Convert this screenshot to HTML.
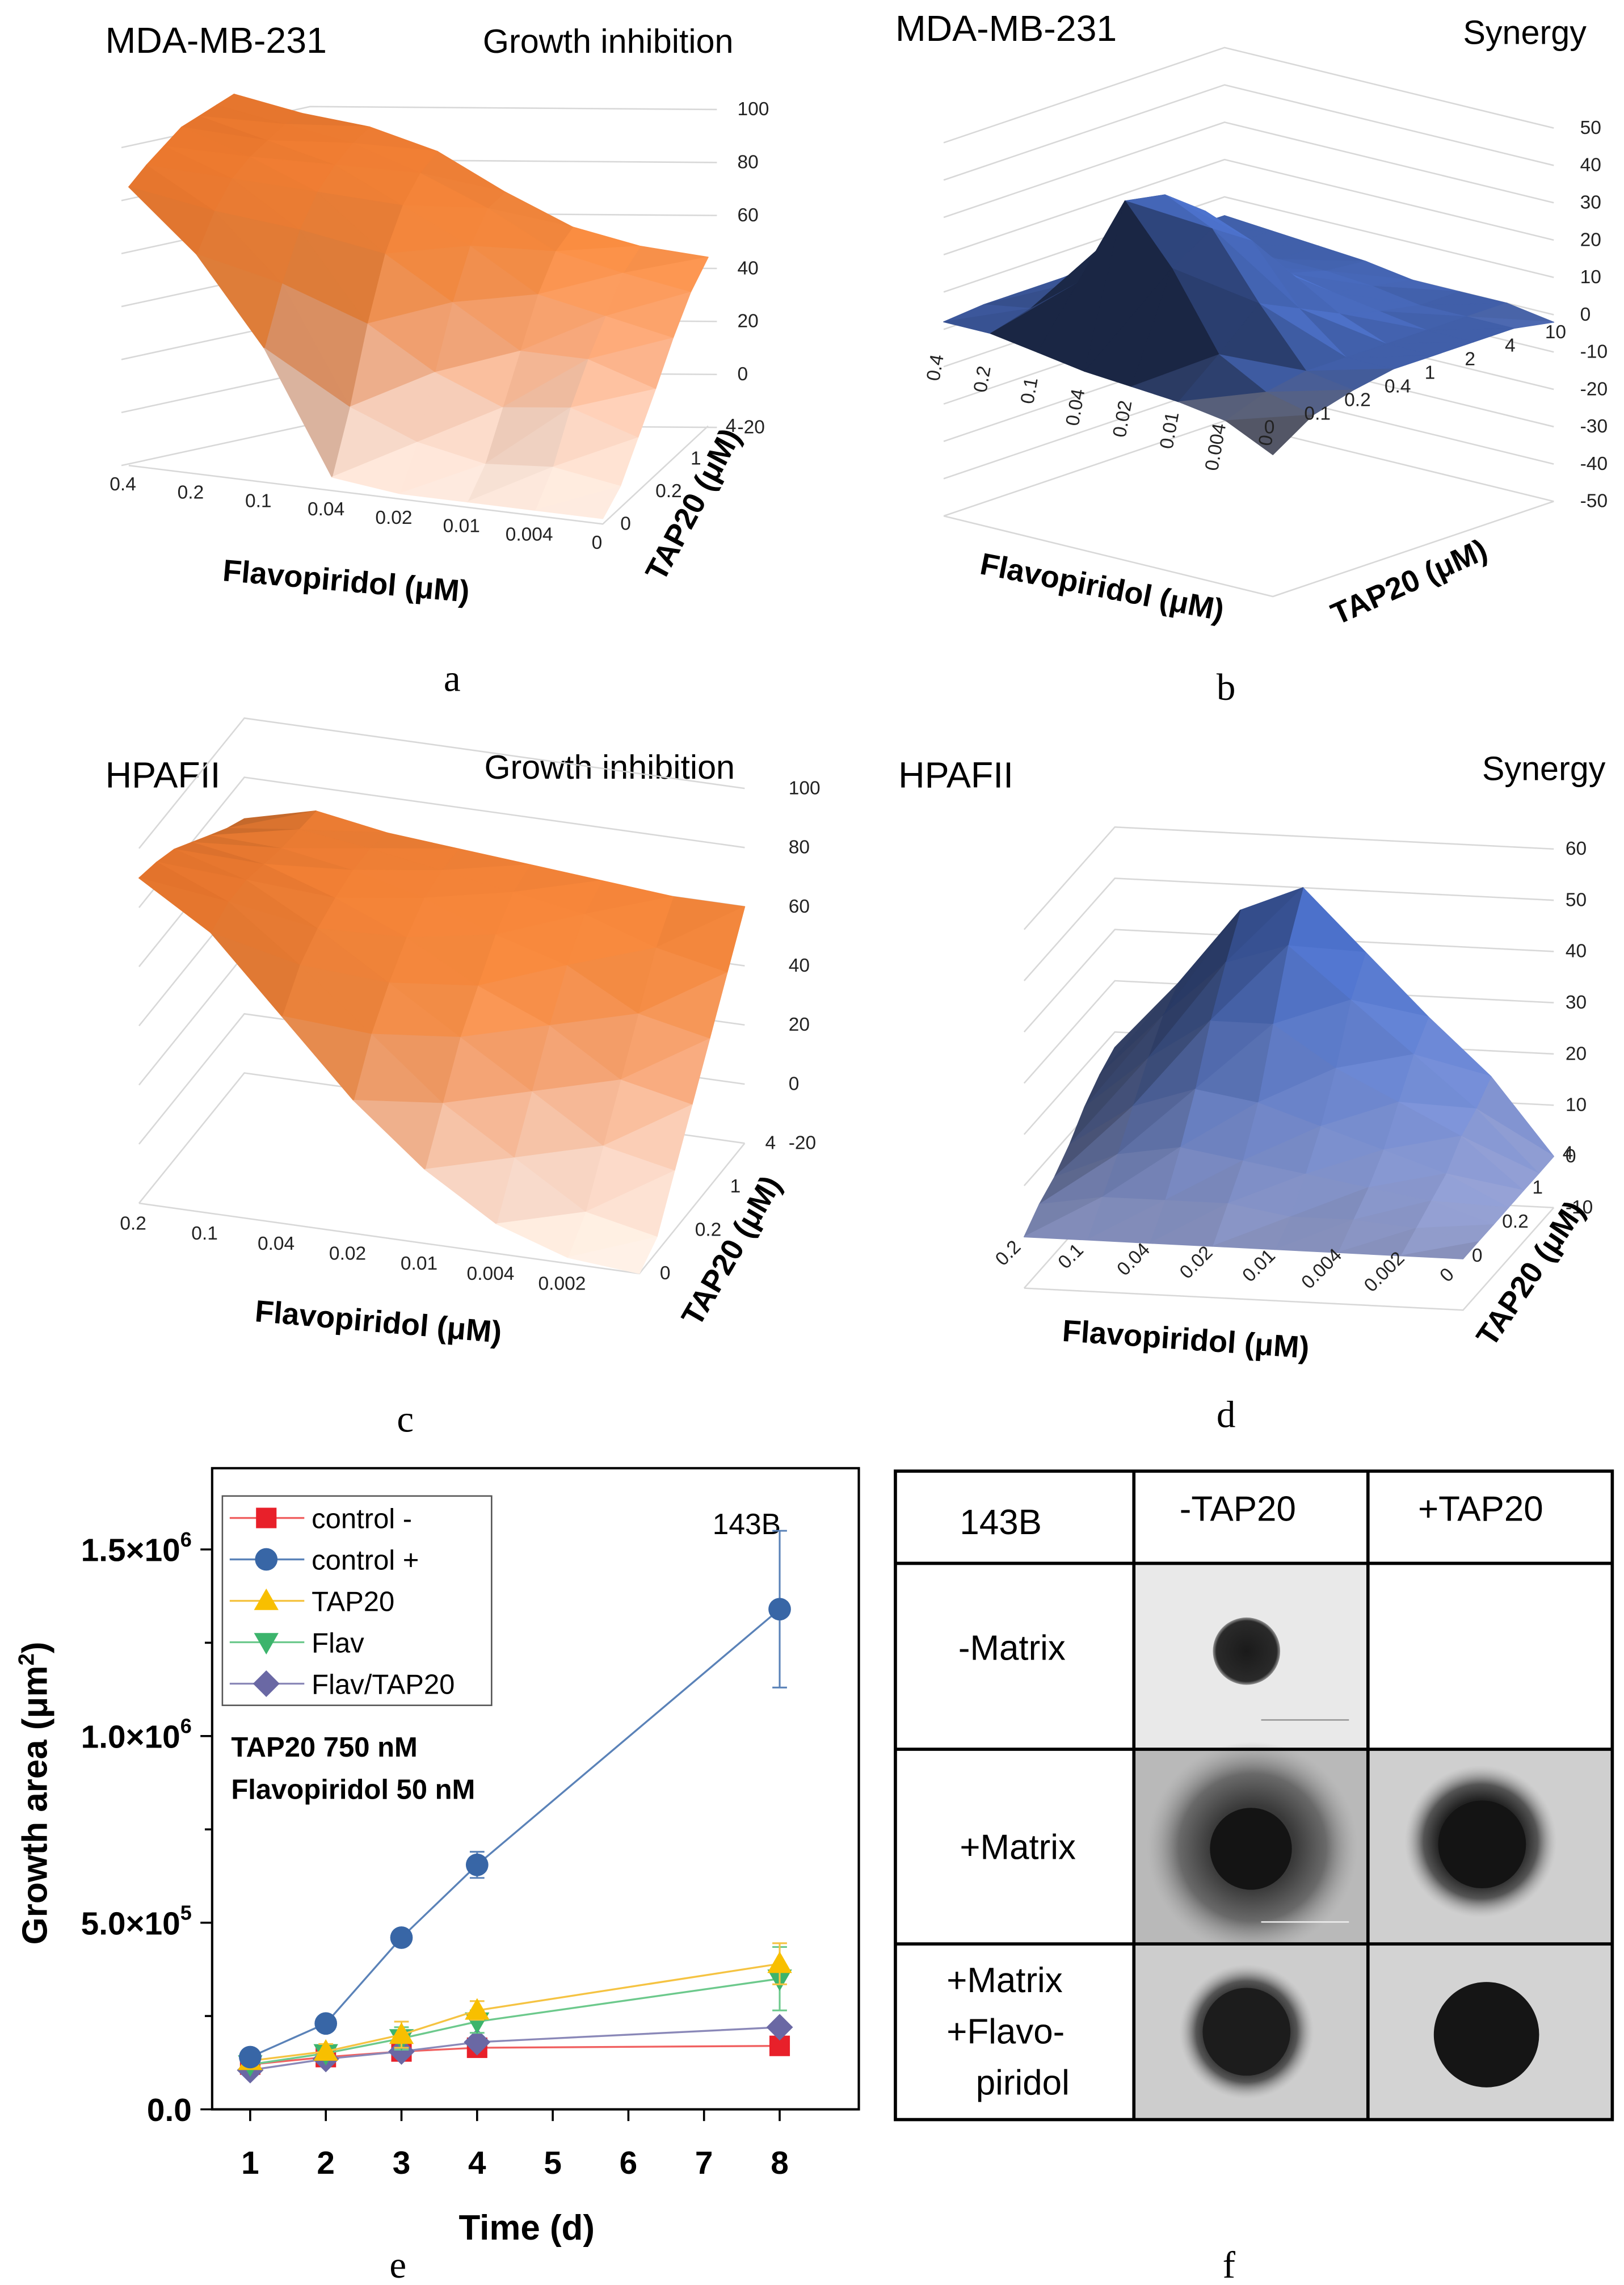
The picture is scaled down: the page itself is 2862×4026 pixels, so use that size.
<!DOCTYPE html>
<html><head><meta charset="utf-8"><title>Figure</title>
<style>
html,body{margin:0;padding:0;background:#fff;}
svg{display:block;}
text{font-family:"Liberation Sans",sans-serif;}
.serif{font-family:"Liberation Serif",serif;}
</style></head>
<body>
<svg id="root" xmlns="http://www.w3.org/2000/svg" width="2862" height="4026" viewBox="0 0 1110 1561" preserveAspectRatio="none">
<defs>
<radialGradient id="sph1" cx="50%" cy="50%" r="50%"><stop offset="0" stop-color="#1a1a1a"/><stop offset="0.9" stop-color="#2a2a2a"/><stop offset="1" stop-color="#555" stop-opacity="0.6"/></radialGradient>
<radialGradient id="halo1" cx="50%" cy="50%" r="50%"><stop offset="0" stop-color="#222"/><stop offset="0.4" stop-color="#3a3a3a"/><stop offset="0.7" stop-color="#6a6a6a"/><stop offset="1" stop-color="#a0a0a0" stop-opacity="0"/></radialGradient>
<radialGradient id="halo2" cx="50%" cy="50%" r="50%"><stop offset="0" stop-color="#1a1a1a"/><stop offset="0.55" stop-color="#222"/><stop offset="0.75" stop-color="#555"/><stop offset="1" stop-color="#aaa" stop-opacity="0"/></radialGradient>
</defs>

<g>
<text x="72" y="36" font-size="25">MDA-MB-231</text>
<text x="330" y="36" font-size="23">Growth inhibition</text>
</g>
<g>
<text x="612" y="28" font-size="25">MDA-MB-231</text>
<text x="1000" y="30" font-size="23">Synergy</text>
</g>
<g>
<text x="72" y="538" font-size="25">HPAFII</text>
<text x="331" y="532" font-size="23">Growth inhibition</text>
</g>
<g>
<text x="614" y="538" font-size="25">HPAFII</text>
<text x="1013" y="533" font-size="23">Synergy</text>
</g>

<g id="pa"></g>
<g id="pb"></g>
<g id="pc"></g>
<g id="pd"></g>

<text x="236" y="404" font-size="21" font-weight="bold" text-anchor="middle" transform="rotate(5 236 404)">Flavopiridol (μM)</text>
<text x="480" y="348" font-size="21" font-weight="bold" text-anchor="middle" transform="rotate(-62 480 348)">TAP20 (μM)</text>
<text x="752" y="408" font-size="21" font-weight="bold" text-anchor="middle" transform="rotate(11 752 408)">Flavopiridol (μM)</text>
<text x="966" y="404" font-size="21" font-weight="bold" text-anchor="middle" transform="rotate(-24 966 404)">TAP20 (μM)</text>
<text x="258" y="910" font-size="21" font-weight="bold" text-anchor="middle" transform="rotate(5 258 910)">Flavopiridol (μM)</text>
<text x="506" y="858" font-size="21" font-weight="bold" text-anchor="middle" transform="rotate(-60 506 858)">TAP20 (μM)</text>
<text x="810" y="922" font-size="21" font-weight="bold" text-anchor="middle" transform="rotate(4 810 922)">Flavopiridol (μM)</text>
<text x="1052" y="874" font-size="21" font-weight="bold" text-anchor="middle" transform="rotate(-56 1052 874)">TAP20 (μM)</text>

<text class="serif" x="309" y="472" font-size="26" text-anchor="middle">a</text>
<text class="serif" x="838" y="478" font-size="26" text-anchor="middle">b</text>
<text class="serif" x="277" y="978" font-size="26" text-anchor="middle">c</text>
<text class="serif" x="838" y="975" font-size="26" text-anchor="middle">d</text>
<text class="serif" x="272" y="1556" font-size="26" text-anchor="middle">e</text>
<text class="serif" x="840" y="1556" font-size="26" text-anchor="middle">f</text>

<g id="pe">
<rect x="145" y="1003" width="442" height="438" fill="none" stroke="#000" stroke-width="1.6"/>
<text transform="translate(32 1225) rotate(-90)" font-size="24" font-weight="bold" text-anchor="middle">Growth area (μm<tspan font-size="15" dy="-9">2</tspan><tspan dy="9">)</tspan></text>
<text x="360" y="1530" font-size="24" font-weight="bold" text-anchor="middle">Time (d)</text>
<text x="487" y="1048" font-size="20">143B</text>
<text x="158" y="1200" font-size="19" font-weight="bold">TAP20 750 nM</text>
<text x="158" y="1229" font-size="19" font-weight="bold">Flavopiridol 50 nM</text>
<g id="legend">
<rect x="152" y="1022" width="184" height="143" fill="#fff" stroke="#555" stroke-width="1"/>
</g>
</g>

<g>
<rect x="775" y="1068" width="160" height="127" fill="#e9e9e9"/>
<circle cx="852" cy="1128" r="23" fill="url(#sph1)"/>
<line x1="862" y1="1175" x2="922" y2="1175" stroke="#999" stroke-width="1"/>
<rect x="775" y="1195" width="160" height="133" fill="#b9b9b9"/>
<circle cx="856" cy="1262" r="72" fill="url(#halo1)"/>
<circle cx="855" cy="1263" r="28" fill="#141414"/>
<line x1="862" y1="1313" x2="922" y2="1313" stroke="#eee" stroke-width="1"/>
<rect x="935" y="1195" width="167" height="133" fill="#cfcfcf"/>
<circle cx="1012" cy="1258" r="52" fill="url(#halo2)"/>
<circle cx="1013" cy="1260" r="30" fill="#141414"/>
<rect x="775" y="1328" width="160" height="120" fill="#cdcdcd"/>
<circle cx="852" cy="1388" r="46" fill="url(#halo2)"/>
<circle cx="852" cy="1388" r="30" fill="#1c1c1c"/>
<rect x="935" y="1328" width="167" height="120" fill="#d3d3d3"/>
<circle cx="1016" cy="1390" r="36" fill="#151515"/>
<g stroke="#000" stroke-width="2.2" fill="none">
<rect x="612" y="1005" width="490" height="443"/>
<line x1="775" y1="1005" x2="775" y2="1448"/>
<line x1="935" y1="1005" x2="935" y2="1448"/>
<line x1="612" y1="1068" x2="1102" y2="1068"/>
<line x1="612" y1="1195" x2="1102" y2="1195"/>
<line x1="612" y1="1328" x2="1102" y2="1328"/>
</g>
<g font-size="24">
<text x="656" y="1048">143B</text>
<text x="846" y="1039" text-anchor="middle">-TAP20</text>
<text x="1012" y="1039" text-anchor="middle">+TAP20</text>
<text x="655" y="1134">-Matrix</text>
<text x="656" y="1270">+Matrix</text>
<text x="647" y="1361">+Matrix</text>
<text x="647" y="1396">+Flavo-</text>
<text x="667" y="1431">piridol</text>
</g>
</g>
</svg>

<script>
// ---------- 3D surface data (rows: TAP20 front->back, cols: Flavopiridol high->0) ----------
const flavLabelsA = ["0.4","0.2","0.1","0.04","0.02","0.01","0.004","0"];
const tapLabelsA = ["0","","0.2","","1","","4"];
const zTicksA = [-20,0,20,40,60,80,100];
const surfA = [
 [84,62,30,-15,-18,-18,-18,-18],
 [86,72,48,5,-5,-10,-8,-12],
 [87,78,62,30,15,5,8,0],
 [88,80,70,50,35,20,20,12],
 [86,80,74,62,50,35,30,25],
 [84,80,76,68,58,45,40,36],
 [82,78,76,70,58,48,44,43]
];
const flavLabelsB = ["0.4","0.2","0.1","0.04","0.02","0.01","0.004","0"];
const tapLabelsB = ["0","0.1","0.2","0.4","1","2","4","10"];
const zTicksB = [-50,-40,-30,-20,-10,0,10,20,30,40,50];
const surfB = [
 [2,2,0,-2,-3,-4,-6,-12],
 [3,5,15,40,25,5,-2,-5],
 [3,8,25,38,32,15,0,-2],
 [3,8,18,30,25,10,0,0],
 [4,6,10,15,12,5,0,0],
 [5,5,5,6,4,2,0,0],
 [5,4,3,3,2,0,0,0],
 [5,4,3,2,0,0,0,-2]
];
const flavLabelsC = ["0.2","0.1","0.04","0.02","0.01","0.004","0.002",""];
const tapLabelsC = ["0","","0.2","","1","","4"];
const zTicksC = [-20,0,20,40,60,80,100];
const surfC = [
 [90,75,50,25,5,-10,-18,-20],
 [88,78,60,40,20,5,-10,-15],
 [85,78,65,50,35,20,5,0],
 [80,76,68,58,45,35,20,15],
 [75,74,70,64,55,48,35,30],
 [70,73,70,66,62,58,50,45],
 [66,72,68,66,64,62,60,60]
];
const flavLabelsD = ["0.2","0.1","0.04","0.02","0.01","0.004","0.002","0"];
const tapLabelsD = ["0","","0.2","","1","","4"];
const zTicksD = [-10,0,10,20,30,40,50,60];
const surfD = [
 [0,0,0,0,0,0,0,0],
 [3,5,5,5,3,3,2,0],
 [5,10,12,10,8,6,4,0],
 [8,16,20,18,14,10,6,0],
 [12,22,30,30,22,16,10,0],
 [15,27,38,42,32,22,12,0],
 [17,30,45,50,38,26,15,0]
];

// ---------- Panel e data ----------
const days = [1,2,3,4,8];
const ctrlNeg = [1.2e5,1.4e5,1.55e5,1.65e5,1.7e5];
const ctrlPos = [1.4e5,2.3e5,4.6e5,6.55e5,13.4e5];
const tap20 = [1.3e5,1.55e5,2.0e5,2.65e5,3.9e5];
const flav = [1.2e5,1.5e5,1.9e5,2.35e5,3.5e5];
const flavTap = [1.05e5,1.35e5,1.55e5,1.8e5,2.2e5];
const ctrlPosErr = [0.1e5,0.2e5,0.15e5,0.35e5,2.1e5];
const tap20Err = [0.1e5,0.2e5,0.35e5,0.25e5,0.55e5];
const flavErr = [0.1e5,0.15e5,0.3e5,0.3e5,0.85e5];
const seriesNames = ["control -","control +","TAP20","Flav","Flav/TAP20"];
const xTickLabels = ["1","2","3","4","5","6","7","8"];
const yTickValues = [0,5e5,1e6,1.5e6];
const yTickLabels = ["0.0","5.0×10","1.0×10","1.5×10"];
const yTickExp = ["","5","6","6"];

const NS = "http://www.w3.org/2000/svg";
function mk(tag, attrs, parent){ const e=document.createElementNS(NS,tag); for(const k in attrs) e.setAttribute(k,attrs[k]); parent.appendChild(e); return e; }
function lerp(a,b,t){return a+(b-a)*t;}
function mixc(stops, v){ v=Math.max(0,Math.min(1,v)); for(let i=0;i<stops.length-1;i++){ const a=stops[i], b=stops[i+1]; if(v<=b[0]){ const t=(v-a[0])/(b[0]-a[0]); return [lerp(a[1][0],b[1][0],t),lerp(a[1][1],b[1][1],t),lerp(a[1][2],b[1][2],t)]; } } return stops[stops.length-1][1]; }

function surface(g, cfg, grid, flavLabels, tapLabels, zTicks){
  const nt=grid.length, nf=grid[0].length;
  const P=(f,t,z)=>[cfg.O[0]+f/(nf-1)*cfg.EX[0]+t/(nt-1)*cfg.ET[0], cfg.O[1]+f/(nf-1)*cfg.EX[1]+t/(nt-1)*cfg.ET[1]-(z-cfg.z0)*cfg.ez];
  const zmin=zTicks[0], zmax=zTicks[zTicks.length-1];
  const wg=mk("g",{fill:"none",stroke:"#d8d8d8","stroke-width":"1"},g);
  
  
  let WA,WB,WC,wez;
  if(cfg.wall){ WA=cfg.wall.A; WB=cfg.wall.B; WC=cfg.wall.C; wez=cfg.wall.ez; }
  else { WA=P(0,0,zmin); WB=P(0,nt-1,zmin); WC=P(nf-1,nt-1,zmin); wez=cfg.ez; }
  zTicks.forEach(z=>{
    const dz=(z-zmin)*wez;
    mk("polyline",{points:`${WA[0]},${WA[1]-dz} ${WB[0]},${WB[1]-dz} ${WC[0]},${WC[1]-dz}`},wg);
  });
  const fl=mk("polyline",{points:`${P(0,0,zmin)} ${P(nf-1,0,zmin)} ${P(nf-1,nt-1,zmin)}`,fill:"none",stroke:"#d8d8d8","stroke-width":"1"},g);
  
  
  const tris=[];
  for(let t=0;t<nt-1;t++) for(let f=0;f<nf-1;f++){
    const q=[[f,t],[f+1,t],[f+1,t+1],[f,t+1]];
    tris.push([q[0],q[1],q[2]]); tris.push([q[0],q[2],q[3]]);
  }
  const pts3=(p)=>[p[0]/(nf-1), p[1]/(nt-1), grid[p[1]][p[0]]/cfg.zr];
  tris.forEach(T=>{
    const a=pts3(T[0]),b=pts3(T[1]),c=pts3(T[2]);
    const u=[b[0]-a[0],b[1]-a[1],b[2]-a[2]], v=[c[0]-a[0],c[1]-a[1],c[2]-a[2]];
    let n=[u[1]*v[2]-u[2]*v[1], u[2]*v[0]-u[0]*v[2], u[0]*v[1]-u[1]*v[0]];
    if(n[2]<0) n=n.map(x=>-x);
    const L=Math.hypot(...n); n=n.map(x=>x/L);
    const l=cfg.light, ll=Math.hypot(...l);
    const d=(n[0]*l[0]+n[1]*l[1]+n[2]*l[2])/ll;
    T.shade=cfg.amb+cfg.dif*Math.max(0,d);
    T.zavg=(grid[T[0][1]][T[0][0]]+grid[T[1][1]][T[1][0]]+grid[T[2][1]][T[2][0]])/3;
    T.depth=cfg.dt*(T[0][1]+T[1][1]+T[2][1])/3+cfg.df*(T[0][0]+T[1][0]+T[2][0])/3;
  });
  tris.sort((p,q)=>q.depth-p.depth);
  const sg=mk("g",{},g);
  
  
  tris.forEach(T=>{
    const base=mixc(cfg.stops,(T.zavg-zmin)/(zmax-zmin));
    const col=base.map(x=>Math.max(0,Math.min(255,Math.round(x*T.shade))));
    const pts=T.map(p=>P(p[0],p[1],grid[p[1]][p[0]]).map(x=>x.toFixed(1)).join(",")).join(" ");
    const c=`rgb(${col})`;
    const pg=mk("polygon",{points:pts,fill:c,stroke:c,"stroke-width":"0.6","stroke-linejoin":"round"},sg);
    
    
  });
  flavLabels.forEach((lab,f)=>{
    if(!lab) return;
    const p=P(f,0,cfg.labZ);
    const x=p[0]+cfg.fOff[0], y=p[1]+cfg.fOff[1];
    const tx=mk("text",{x:x,y:y,"font-size":"13","text-anchor":cfg.fAnchor,fill:"#222"},g);
    if(cfg.fRot) tx.setAttribute("transform",`rotate(${cfg.fRot} ${x} ${y})`);
    tx.textContent=lab;
    
    
  });
  tapLabels.forEach((lab,t)=>{
    if(!lab) return;
    const p=P(nf-1,t,cfg.labZ);
    const tx=mk("text",{x:p[0]+cfg.tOff[0],y:p[1]+cfg.tOff[1],"font-size":"13",fill:"#222"},g);
    tx.textContent=lab;
    
    
  });
  zTicks.forEach(z=>{
    let x,y;
    if(cfg.wall){ x=WC[0]+cfg.zOff[0]; y=WC[1]-(z-zmin)*wez+cfg.zOff[1]; }
    else { const p=P(nf-1,nt-1,z); x=p[0]+cfg.zOff[0]; y=p[1]+cfg.zOff[1]; }
    const tx=mk("text",{x:x,y:y,"font-size":"13",fill:"#222"},g);
    tx.textContent=String(z);
    
    
  });
}

const orangeStops=[[0,[250,235,226]],[0.2,[247,208,188]],[0.35,[244,168,125]],[0.55,[240,135,62]],[1,[226,110,38]]];
surface(document.getElementById("pa"),{O:[88,318],EX:[324,40],ET:[72,-67],ez:1.83,z0:-20,zr:100,light:[0.35,-0.35,0.9],amb:0.55,dif:0.5,stops:orangeStops,dt:1,df:-0.3,labZ:-20,fOff:[-4,17],fAnchor:"middle",fRot:0,tOff:[12,4],zOff:[14,4],wall:{A:[83,318],B:[212,290],C:[490,292],ez:1.81}},surfA,flavLabelsA,tapLabelsA,zTicksA);
surface(document.getElementById("pb"),{O:[645,225],EX:[225,55],ET:[192,-65],ez:2.55,z0:0,zr:100,light:[0.25,0.7,0.7],amb:0.35,dif:0.75,stops:[[0,[150,150,160]],[0.45,[130,135,160]],[0.5,[75,110,195]],[1,[70,105,190]]],dt:1,df:-0.8,labZ:0,fOff:[0,18],fAnchor:"end",fRot:-80,tOff:[-6,16],zOff:[18,4]},surfB,flavLabelsB,tapLabelsB,zTicksB);
surface(document.getElementById("pc"),{O:[95,822],EX:[342,48],ET:[72,-89],ez:2.02,z0:-20,zr:100,light:[0.35,-0.35,0.9],amb:0.55,dif:0.5,stops:orangeStops,dt:1,df:-0.3,labZ:-20,fOff:[-4,18],fAnchor:"middle",fRot:0,tOff:[14,4],zOff:[30,4]},surfC,flavLabelsC,tapLabelsC,zTicksC);
surface(document.getElementById("pd"),{O:[700,845],EX:[300,15],ET:[62,-70],ez:3.5,z0:0,zr:60,light:[0.6,-0.1,0.75],amb:0.5,dif:0.6,stops:[[0,[150,158,195]],[0.15,[140,150,195]],[0.4,[105,130,200]],[0.7,[75,110,195]],[1,[65,100,190]]],dt:1,df:-0.25,labZ:0,fOff:[-8,14],fAnchor:"middle",fRot:-45,tOff:[6,2],zOff:[8,4]},surfD,flavLabelsD,tapLabelsD,zTicksD);

// ---------- Panel e ----------
(function(){
  const g=document.getElementById("pe");
  const X=d=>171+(d-1)*51.7;
  const Y=v=>1441-v/5e5*127.5;
  xTickLabels.forEach((lab,i)=>{
    const d=i+1;
    const tk=mk("line",{x1:X(d),y1:1441,x2:X(d),y2:1449,stroke:"#000","stroke-width":"1.4"},g);
    
    
    const tx=mk("text",{x:X(d),y:1485,"font-size":"22","font-weight":"bold","text-anchor":"middle"},g);
    tx.textContent=lab;
    
    
  });
  for(let v=0;v<=1.65e6;v+=2.5e5){
    const major=yTickValues.indexOf(v)>=0;
    const tk=mk("line",{x1:major?137:140,y1:Y(v),x2:145,y2:Y(v),stroke:"#000","stroke-width":"1.4"},g);
    
    
  }
  yTickValues.forEach((v,i)=>{
    const tx=mk("text",{x:131,y:Y(v)+8,"font-size":"22","font-weight":"bold","text-anchor":"end"},g);
    tx.textContent=yTickLabels[i];
    if(yTickExp[i]){ const ts=mk("tspan",{"font-size":"14",dy:"-10"},tx); ts.textContent=yTickExp[i]; }
    
    
  });
  const series=[
    {v:ctrlNeg,err:null,line:"#f06060",fill:"#e8202a",m:"square"},
    {v:ctrlPos,err:ctrlPosErr,line:"#5a82b8",fill:"#3866a6",m:"circle"},
    {v:tap20,err:tap20Err,line:"#f5c342",fill:"#f8bf00",m:"up"},
    {v:flav,err:flavErr,line:"#6cc98c",fill:"#3cb46c",m:"down"},
    {v:flavTap,err:null,line:"#8a88b8",fill:"#6a68a4",m:"diamond"}
  ];
  function marker(par,m,x,y,fill,s){
    let e;
    if(m==="square") e=mk("rect",{x:x-s,y:y-s,width:2*s,height:2*s,fill:fill},par);
    else if(m==="circle") e=mk("circle",{cx:x,cy:y,r:s*1.1,fill:fill},par);
    else if(m==="up") e=mk("polygon",{points:`${x},${y-s*1.2} ${x+s*1.2},${y+s*0.9} ${x-s*1.2},${y+s*0.9}`,fill:fill},par);
    else if(m==="down") e=mk("polygon",{points:`${x},${y+s*1.2} ${x+s*1.2},${y-s*0.9} ${x-s*1.2},${y-s*0.9}`,fill:fill},par);
    else e=mk("polygon",{points:`${x},${y-s*1.3} ${x+s*1.3},${y} ${x},${y+s*1.3} ${x-s*1.3},${y}`,fill:fill},par);
    
    
  }
  const order=[0,4,3,2,1];
  order.forEach(si=>{
    const s=series[si];
    const sg=mk("g",{},g);
    
    
    const pl=mk("polyline",{points:days.map((d,i)=>X(d)+","+Y(s.v[i])).join(" "),fill:"none",stroke:s.line,"stroke-width":"1.3"},sg);
    
    
    if(s.err) days.forEach((d,i)=>{
      const e=s.err[i], x=X(d);
      const eb=mk("path",{d:`M${x},${Y(s.v[i]-e)}V${Y(s.v[i]+e)}M${x-5},${Y(s.v[i]-e)}h10M${x-5},${Y(s.v[i]+e)}h10`,stroke:s.line,"stroke-width":"1.2",fill:"none"},sg);
      
      
    });
    days.forEach((d,i)=>marker(sg,s.m,X(d),Y(s.v[i]),s.fill,7));
  });
  const lg=document.getElementById("legend");
  seriesNames.forEach((n,i)=>{
    const y=1037+i*28.3, s=series[i];
    const ent=mk("g",{},lg);
    
    
    mk("line",{x1:157,y1:y,x2:208,y2:y,stroke:s.line,"stroke-width":"1.3"},ent);
    marker(ent,s.m,182,y,s.fill,7);
    const tx=mk("text",{x:213,y:y+7,"font-size":"19"},ent);
    tx.textContent=n;
  });
})();
</script>
</body></html>
